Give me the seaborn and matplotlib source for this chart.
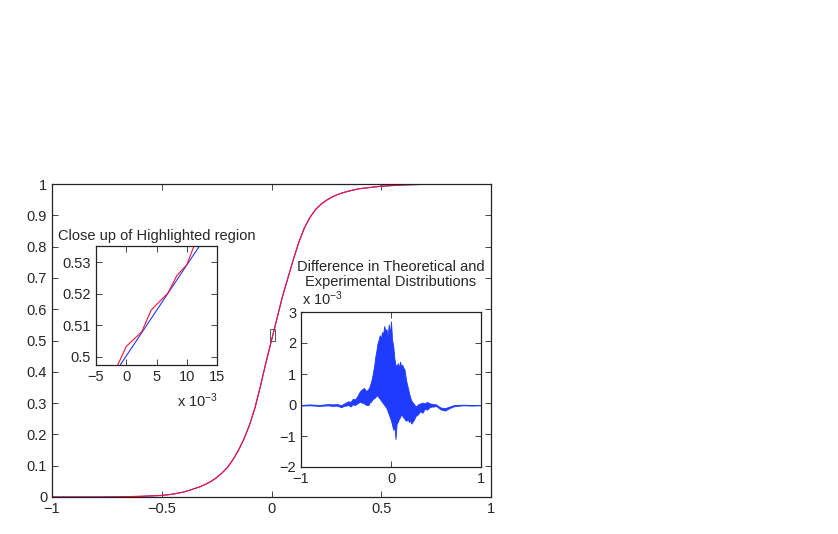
"""CDF comparison with close-up and difference insets."""

import matplotlib

matplotlib.use("Agg")
import matplotlib.pyplot as plt  # noqa: E402
import pandas as pd
import seaborn as sns
from matplotlib.patches import Rectangle

# Main CDF curve (theoretical and experimental overlap at this scale)
cdf_x = [-1.0, -0.8, -0.7, -0.6, -0.5, -0.45, -0.4, -0.375, -0.35, -0.325,
         -0.3, -0.275, -0.25, -0.225, -0.2, -0.175, -0.15, -0.125, -0.1,
         -0.075, -0.05, -0.025, 0.0, 0.025, 0.05, 0.075, 0.1, 0.125, 0.15,
         0.175, 0.2, 0.225, 0.25, 0.275, 0.3, 0.325, 0.35, 0.375, 0.4, 0.45,
         0.5, 0.55, 0.6, 0.65, 0.7, 0.8, 1.0]
cdf_theory = [0.0, 0.0, 0.0005, 0.002, 0.005, 0.009, 0.016, 0.021, 0.027, 0.033,
              0.041, 0.050, 0.062, 0.077, 0.095, 0.12, 0.150, 0.186, 0.23,
              0.285, 0.355, 0.43, 0.5, 0.57, 0.64, 0.70, 0.76, 0.815, 0.86,
              0.893, 0.918, 0.935, 0.948, 0.958, 0.966, 0.972, 0.977, 0.981, 0.985, 0.989,
              0.993, 0.995, 0.997, 0.998, 0.999, 1.0, 1.0]
cdf_exper = [0.0, 0.0, 0.0005, 0.002, 0.005, 0.009, 0.016, 0.021, 0.027, 0.033,
             0.041, 0.050, 0.062, 0.077, 0.095, 0.12, 0.150, 0.186, 0.231,
             0.286, 0.356, 0.431, 0.501, 0.571, 0.641, 0.70, 0.76, 0.815, 0.86,
             0.893, 0.918, 0.935, 0.948, 0.958, 0.966, 0.972, 0.977, 0.981, 0.985, 0.989,
             0.993, 0.995, 0.997, 0.998, 0.999, 1.0, 1.0]

# Close-up (x in units of 1e-3)
zoom_theory_x = [-1.0, 12.1]
zoom_theory_y = [0.4973, 0.5352]
zoom_exper_x = [-1.41, 0.0, 2.57, 4.12, 6.88, 8.37, 10.0, 11.2]
zoom_exper_y = [0.4973, 0.5032, 0.5079, 0.5148, 0.5202, 0.5258, 0.5292, 0.5352]

# Difference band (values in units of 1e-3)
diff_x = [-1.0, -0.9, -0.8, -0.7, -0.65, -0.6, -0.575, -0.55, -0.525, -0.5,
          -0.475, -0.45, -0.425, -0.4, -0.375, -0.35, -0.325, -0.3, -0.275,
          -0.25, -0.2375, -0.225, -0.2125, -0.2, -0.1875, -0.175, -0.1625,
          -0.15, -0.1375, -0.125, -0.1125, -0.1, -0.0875, -0.075, -0.0625,
          -0.05, -0.0375, -0.025, -0.0125, 0.0, 0.0125, 0.025, 0.0375, 0.05,
          0.0625, 0.075, 0.0875, 0.1, 0.1125, 0.125, 0.1375, 0.15, 0.1625,
          0.175, 0.1875, 0.2, 0.2125, 0.225, 0.2375, 0.25,
          0.275, 0.3, 0.325, 0.35, 0.375, 0.4, 0.425, 0.45,
          0.475, 0.5, 0.55, 0.6, 0.65, 0.7, 0.8, 0.9, 1.0]
diff_upper = [0.0, 0.02, 0.0, 0.03, 0.02, 0.03, 0.01, 0.0, 0.04, 0.08,
              0.12, 0.1, 0.2, 0.18, 0.28, 0.42, 0.5, 0.55, 0.45,
              0.52, 0.6, 0.72, 0.85, 1.05, 1.25, 1.55, 1.75,
              2.0, 2.1, 2.25, 2.15, 2.35, 2.3, 2.55, 2.4,
              2.45, 2.2, 2.6, 2.3, 2.7, 2.1, 1.9, 1.5, 1.3,
              1.25, 1.35, 1.2, 1.4, 1.25, 1.3, 1.2, 1.15, 0.9,
              0.7, 0.55, 0.4, 0.25, 0.15, 0.1, 0.05,
              -0.05, 0.02, 0.05, 0.08, 0.05, 0.1, 0.06, 0.04,
              0.03, 0.02, -0.08, -0.1, -0.05, 0.0, 0.01, 0.0, 0.0]
diff_lower = [-0.02, -0.01, -0.03, -0.01, -0.03, -0.02, -0.05, -0.07, -0.03, -0.02,
              0.0, -0.05, 0.02, 0.0, 0.05, 0.1, 0.08, 0.05, 0.0,
              0.0, 0.08, 0.1, 0.15, 0.2, 0.22, 0.25, 0.3,
              0.3, 0.25, 0.2, 0.15, 0.1, 0.05, 0.0, -0.05,
              -0.1, -0.2, -0.3, -0.4, -0.5, -0.65, -0.8, -0.7, -1.1,
              -0.6, -0.55, -0.45, -0.4, -0.3, -0.35, -0.4, -0.45, -0.5,
              -0.5, -0.45, -0.55, -0.5, -0.6, -0.55, -0.5,
              -0.35, -0.3, -0.2, -0.25, -0.12, -0.15, -0.08, -0.05,
              -0.05, -0.03, -0.14, -0.18, -0.1, -0.04, -0.01, -0.02, -0.01]

main_xticks = [-1, -0.5, 0, 0.5, 1]
main_xlabels = ["\u22121", "\u22120.5", "0", "0.5", "1"]
main_yticks = [0, 0.1, 0.2, 0.3, 0.4, 0.5, 0.6, 0.7, 0.8, 0.9, 1]
main_ylabels = ["0", "0.1", "0.2", "0.3", "0.4", "0.5", "0.6", "0.7", "0.8", "0.9", "1"]
zoom_xticks = [-5, 0, 5, 10, 15]
zoom_yticks = [0.50, 0.51, 0.52, 0.53]
zoom_ylabels = ["0.5", "0.51", "0.52", "0.53"]
diff_xticks = [-1, 0, 1]
diff_yticks = [-2, -1, 0, 1, 2, 3]

sns.set_style("ticks")
plt.rcParams["font.family"] = ["Liberation Sans", "DejaVu Sans"]
plt.rcParams["mathtext.default"] = "regular"
plt.rcParams.update({
    "xtick.direction": "in", "ytick.direction": "in",
    "xtick.top": True, "ytick.right": True,
    "xtick.major.size": 4, "ytick.major.size": 4,
    "xtick.major.width": 0.6, "ytick.major.width": 0.6,
    "axes.linewidth": 0.9, "axes.edgecolor": "#222222",
    "font.size": 10.5, "xtick.labelsize": 10.5, "ytick.labelsize": 10.5,
})

W, H = 838, 534
fig = plt.figure(figsize=(W / 100, H / 100), dpi=100)


def px_axes(left, top, right, bottom):
    return fig.add_axes([left / W, 1 - bottom / H, (right - left) / W, (bottom - top) / H])


BLUE = "#1f3bff"
RED = "#ff1030"

# main axes
ax = px_axes(52, 184, 491, 497)
main = pd.DataFrame({"x": cdf_x, "theory": cdf_theory, "exper": cdf_exper})
sns.lineplot(data=main, x="x", y="theory", color=BLUE, lw=0.8, ax=ax)
sns.lineplot(data=main, x="x", y="exper", color=RED, lw=0.8, ax=ax)
ax.add_patch(Rectangle((zoom_xticks[0] * 1e-3, zoom_theory_y[0]), 0.02,
                       zoom_theory_y[1] - zoom_theory_y[0], fill=False,
                       ec="#555555", lw=0.7))
ax.set_xlim(-1, 1)
ax.set_ylim(0, 1)
ax.set_xticks(main_xticks, main_xlabels)
ax.set_yticks(main_yticks, main_ylabels)
ax.set_xlabel("")
ax.set_ylabel("")

# close-up inset
ax1 = px_axes(96, 246, 217, 365)
sns.lineplot(x=zoom_theory_x, y=zoom_theory_y, color=BLUE, lw=0.8, ax=ax1)
sns.lineplot(x=zoom_exper_x, y=zoom_exper_y, color=RED, lw=0.8, ax=ax1)
ax1.set_xlim(-5, 15)
ax1.set_ylim(0.4973, 0.5352)
ax1.set_xticks(zoom_xticks, ["\u22125", "0", "5", "10", "15"])
ax1.set_yticks(zoom_yticks, zoom_ylabels)
ax1.set_title("Close up of Highlighted region", fontsize=10.5, pad=4)
ax1.text(0.84, -0.30, r"x 10$^{-3}$", transform=ax1.transAxes,
         ha="center", va="center", fontsize=10.5)

# difference inset
ax2 = px_axes(301, 312, 481, 467)
ax2.fill_between(diff_x, diff_lower, diff_upper, color=BLUE, lw=0.6, ec=BLUE)
ax2.set_xlim(-1, 1)
ax2.set_ylim(-2, 3)
ax2.set_xticks(diff_xticks, ["\u22121", "0", "1"])
ax2.set_yticks(diff_yticks, ["\u22122", "\u22121", "0", "1", "2", "3"])
ax2.set_title("Difference in Theoretical and\nExperimental Distributions",
              fontsize=10.5, pad=19, linespacing=1.1)
ax2.text(0.12, 1.085, r"x 10$^{-3}$", transform=ax2.transAxes,
         ha="center", va="center", fontsize=10.5)

fig.savefig("out.png", dpi=100)
